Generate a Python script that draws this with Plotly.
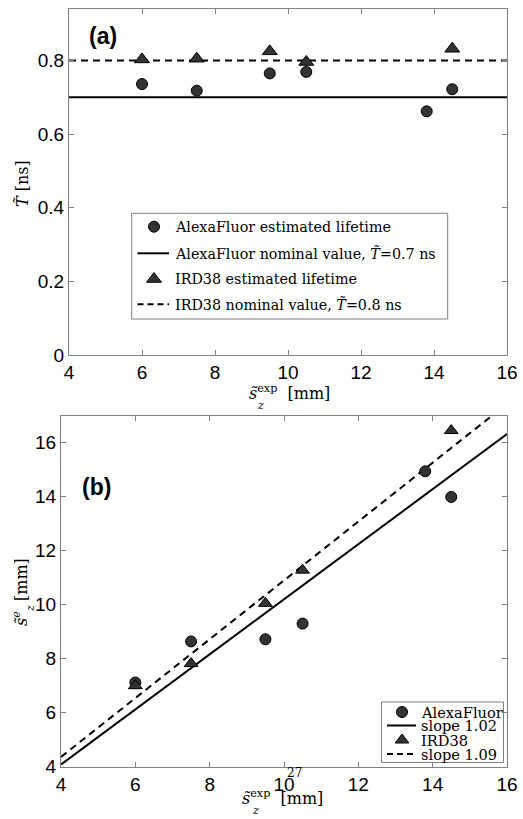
import plotly.graph_objects as go

W, H = 523, 819

# ---------------- data ----------------
x_alexa = [6, 7.5, 9.5, 10.5, 13.8, 14.5]
x_ird = [6, 7.5, 9.5, 10.5, 14.5]
alexa_T = [0.736, 0.718, 0.765, 0.769, 0.662, 0.722]
ird_T = [0.803, 0.805, 0.825, 0.796, 0.832]
alexa_nominal = 0.7
ird_nominal = 0.8

alexa_se = [7.12, 8.64, 8.72, 9.30, 14.94, 13.99]
ird_se = [7.00, 7.82, 10.05, 11.28, 16.45]
alexa_slope = 1.02
ird_slope = 1.09

x_range = [4, 16]
ya_range = [0, 0.94]
yb_range = [4, 17]
x_ticks = [4, 6, 8, 10, 12, 14, 16]
ya_ticks = [0, 0.2, 0.4, 0.6, 0.8]
ya_ticklabels = ["0", "0.2", "0.4", "0.6", "0.8"]
yb_ticks = [4, 6, 8, 10, 12, 14, 16]

legend_a = ["AlexaFluor estimated lifetime",
            "AlexaFluor nominal value, <i>T\u0303</i>=0.7 ns",
            "IRD38 estimated lifetime",
            "IRD38 nominal value, <i>T\u0303</i>=0.8 ns"]
legend_b = ["AlexaFluor", "slope 1.02", "IRD38", "slope 1.09"]

# ---------------- styles ----------------
FILL = "#333333"
SERIF = "DejaVu Serif"
SANS = "Liberation Sans, Arial"
DASH = "7px,5px"
NB = "\u00a0"


def px(x):
    return x / W


def py(y):
    return 1 - y / H


circle = dict(symbol="circle", size=11, color=FILL, line=dict(color="black", width=1))
tri = dict(symbol="triangle-up", size=13, color=FILL, line=dict(color="black", width=1))
circle_b = dict(symbol="circle", size=11, color=FILL, line=dict(color="black", width=1))
tri_b = dict(symbol="triangle-up", size=12, color=FILL, line=dict(color="black", width=1))

fig = go.Figure()

# ---- panel (a)
fig.add_trace(go.Scatter(x=x_range, y=[alexa_nominal] * 2, mode="lines",
                         line=dict(color="black", width=2), xaxis="x", yaxis="y", showlegend=False))
fig.add_trace(go.Scatter(x=x_range, y=[ird_nominal] * 2, mode="lines",
                         line=dict(color="black", width=2, dash=DASH), xaxis="x", yaxis="y", showlegend=False))
fig.add_trace(go.Scatter(x=x_alexa, y=alexa_T, mode="markers", marker=circle,
                         xaxis="x", yaxis="y", showlegend=False))
fig.add_trace(go.Scatter(x=x_ird, y=ird_T, mode="markers", marker=tri,
                         xaxis="x", yaxis="y", showlegend=False))

# ---- panel (b)
fig.add_trace(go.Scatter(x=x_range, y=[alexa_slope * v for v in x_range], mode="lines",
                         line=dict(color="black", width=2), xaxis="x2", yaxis="y2", showlegend=False))
fig.add_trace(go.Scatter(x=x_range, y=[ird_slope * v for v in x_range], mode="lines",
                         line=dict(color="black", width=2, dash=DASH), xaxis="x2", yaxis="y2", showlegend=False))
fig.add_trace(go.Scatter(x=x_alexa, y=alexa_se, mode="markers", marker=circle_b,
                         xaxis="x2", yaxis="y2", showlegend=False))
fig.add_trace(go.Scatter(x=x_ird, y=ird_se, mode="markers", marker=tri_b,
                         xaxis="x2", yaxis="y2", showlegend=False))

# ---- legend symbols on a full-figure pixel overlay axis
rows_a = [226.7, 253.3, 279.0, 304.3]
fig.add_trace(go.Scatter(x=[154], y=[rows_a[0]], mode="markers", marker=circle,
                         xaxis="x3", yaxis="y3", showlegend=False))
fig.add_trace(go.Scatter(x=[137.5, 169], y=[rows_a[1]] * 2, mode="lines",
                         line=dict(color="black", width=2), xaxis="x3", yaxis="y3", showlegend=False))
fig.add_trace(go.Scatter(x=[154], y=[rows_a[2]], mode="markers", marker=tri,
                         xaxis="x3", yaxis="y3", showlegend=False))
fig.add_trace(go.Scatter(x=[137.5, 169], y=[rows_a[3]] * 2, mode="lines",
                         line=dict(color="black", width=2, dash="6px,4px"), xaxis="x3", yaxis="y3", showlegend=False))
rows_b = [712.0, 725.5, 740.0, 754.0]
fig.add_trace(go.Scatter(x=[402], y=[rows_b[0]], mode="markers", marker=circle_b,
                         xaxis="x3", yaxis="y3", showlegend=False))
fig.add_trace(go.Scatter(x=[387, 416], y=[rows_b[1]] * 2, mode="lines",
                         line=dict(color="black", width=2), xaxis="x3", yaxis="y3", showlegend=False))
fig.add_trace(go.Scatter(x=[402], y=[rows_b[2]], mode="markers", marker=tri_b,
                         xaxis="x3", yaxis="y3", showlegend=False))
fig.add_trace(go.Scatter(x=[387, 416], y=[rows_b[3]] * 2, mode="lines",
                         line=dict(color="black", width=2, dash="6px,4px"), xaxis="x3", yaxis="y3", showlegend=False))

axis_common = dict(showline=True, linecolor="#7f7f7f", linewidth=1, mirror="ticks",
                   ticks="inside", ticklen=5, tickcolor="#7f7f7f", showgrid=False, zeroline=False,
                   tickfont=dict(family=SANS, size=19, color="black"))

fig.update_layout(
    width=W, height=H,
    margin=dict(l=0, r=0, t=0, b=0, autoexpand=False),
    paper_bgcolor="white", plot_bgcolor="rgba(0,0,0,0)",
    xaxis=dict(domain=[px(69), px(507)], range=x_range, tickvals=x_ticks, anchor="y", **axis_common),
    yaxis=dict(domain=[py(355), py(9)], range=ya_range, tickvals=ya_ticks, ticktext=ya_ticklabels,
               anchor="x", **axis_common),
    xaxis2=dict(domain=[px(61), px(507)], range=x_range, tickvals=x_ticks, anchor="y2", **axis_common),
    yaxis2=dict(domain=[py(766.7), py(415.7)], range=yb_range, tickvals=yb_ticks, anchor="x2", **axis_common),
    xaxis3=dict(domain=[0, 1], range=[0, W], visible=False, anchor="y3", fixedrange=True),
    yaxis3=dict(domain=[0, 1], range=[H, 0], visible=False, anchor="x3", fixedrange=True),
)

shapes = [
    dict(type="rect", xref="paper", yref="paper", x0=px(131.7), x1=px(447.7), y0=py(319), y1=py(213.3),
         line=dict(color="#7f7f7f", width=1), fillcolor="white", layer="below"),
    dict(type="rect", xref="paper", yref="paper", x0=px(381.5), x1=px(503.5), y0=py(762.5), y1=py(702),
         line=dict(color="#7f7f7f", width=1), fillcolor="white", layer="below"),
]
fig.update_layout(shapes=shapes)


def note(x, y, text, size, family=SERIF, angle=0, xanchor="center"):
    return dict(x=px(x), y=py(y), xref="paper", yref="paper", text=text, showarrow=False,
                xanchor=xanchor, yanchor="middle", textangle=angle,
                font=dict(family=family, size=size, color="black"))


ann = []
for txt, yy in zip(legend_a, rows_a):
    ann.append(note(172.5, yy, txt, 14.3, xanchor="left"))
for txt, yy in zip(legend_b, rows_b):
    ann.append(note(418.5, yy, txt, 14.6, xanchor="left"))

xtitle = "<i>s\u0303</i><sup>exp</sup>" + NB + NB + "[mm]"
ann += [
    note(103, 36, "<b>(a)</b>", 23, family=SANS),
    note(96.5, 487, "<b>(b)</b>", 23, family=SANS),
    # x titles (a) and (b): subscript z stacked under the superscript
    note(289, 392, xtitle, 16),
    note(260, 405, "<i>z</i>", 11),
    note(282.5, 797, xtitle, 16),
    note(255, 810, "<i>z</i>", 11),
    # y titles
    note(23, 184, "<i>T\u0303</i>" + NB + "[ns]", 16, angle=-90),
    note(20, 592, "<i>s\u0303</i><sup><i>e</i></sup>" + NB + NB + "[mm]", 16, angle=-90),
    note(30, 609, "<i>z</i>", 11, angle=-90),
    note(294, 773, "27", 12),
]
fig.update_layout(annotations=ann)

fig.write_html("out.html", config={"displayModeBar": False},
               post_script="document.body.style.margin='0';document.body.style.overflow='hidden';")
